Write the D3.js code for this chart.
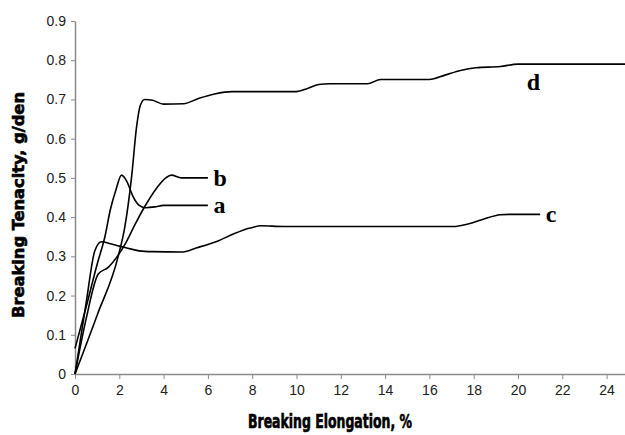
<!DOCTYPE html>
<html>
<head>
<meta charset="utf-8">
<script src="https://cdn.jsdelivr.net/npm/d3@7"></script>
<style>
  body { margin: 0; background: #fff; }
  svg { display: block; }
</style>
</head>
<body>
<svg id="chart" width="625" height="435"></svg>
<script>
// elongation (%) and tenacity (g/den)
const curveA = [[0,0.065],[0.5,0.17],[1,0.28],[1.35,0.35],[1.6,0.42],[1.85,0.47],[2.1,0.507],[2.35,0.49],[2.6,0.455],[2.9,0.43],[3.2,0.424],[3.6,0.426],[4,0.43],[6,0.43]];
const curveB = [[0,0],[0.5,0.14],[1.05,0.255],[1.5,0.272],[1.95,0.303],[2.3,0.335],[2.7,0.38],[3.15,0.427],[3.7,0.475],[4.1,0.5],[4.35,0.507],[4.8,0.5],[6,0.5]];
const curveC = [[0,0],[0.5,0.18],[0.9,0.315],[1.2,0.337],[1.6,0.332],[2,0.326],[2.3,0.322],[2.9,0.314],[3.5,0.312],[4.8,0.311],[5.5,0.322],[6.4,0.338],[7.2,0.358],[7.9,0.372],[8.4,0.378],[9.4,0.376],[17.1,0.376],[17.7,0.382],[18.4,0.394],[19.2,0.406],[19.6,0.407],[21,0.407]];
const curveD = [[0,0],[1,0.15],[1.95,0.3],[2.25,0.375],[2.55,0.5],[2.78,0.63],[2.95,0.685],[3.15,0.7],[3.5,0.698],[4,0.688],[4.9,0.689],[5.6,0.703],[6.3,0.714],[7.1,0.72],[10,0.72],[10.5,0.728],[11,0.738],[11.5,0.74],[13.2,0.74],[13.8,0.751],[16,0.751],[16.7,0.762],[17.4,0.774],[18.1,0.781],[19.2,0.784],[20,0.79],[25,0.79]];

const seriesNames = ['a', 'b', 'c', 'd'];
// label anchor points (elongation, tenacity)
const labelAt = [[6.25, 0.43], [6.25, 0.5], [21.25, 0.407], [20.4, 0.725]];
const xTicks = [0, 2, 4, 6, 8, 10, 12, 14, 16, 18, 20, 22, 24];
const yTicks = [0, 0.1, 0.2, 0.3, 0.4, 0.5, 0.6, 0.7, 0.8, 0.9];

const svg = d3.select('#chart');

const x = d3.scaleLinear().domain([0, 25]).range([75, 628.75]);
const y = d3.scaleLinear().domain([0, 0.9]).range([374, 21]);

// axes
const xAxis = svg.append('g')
    .attr('transform', 'translate(0,' + y(0) + ')')
    .call(d3.axisBottom(x).tickValues(xTicks).tickSize(5).tickSizeOuter(0).tickFormat(d3.format('d')));
const yAxis = svg.append('g')
    .attr('transform', 'translate(' + x(0) + ',0)')
    .call(d3.axisLeft(y).tickValues(yTicks).tickSize(4).tickSizeOuter(0).tickFormat(d => d === 0 ? '0' : d3.format('.1f')(d)));

[xAxis, yAxis].forEach(g => {
  g.select('.domain').attr('stroke', '#8a8a8a').attr('stroke-width', 1.5);
  g.selectAll('.tick line').attr('stroke', '#8a8a8a').attr('stroke-width', 1);
  g.selectAll('.tick text')
      .attr('fill', '#222')
      .style('font-family', 'Arial, "Liberation Sans", sans-serif')
      .style('font-size', '14px');
});
xAxis.selectAll('.tick text').attr('dy', '0.95em');
yAxis.selectAll('.tick text').attr('x', -9);

// curves
const line = d3.line()
    .x(d => x(d[0]))
    .y(d => y(d[1]))
    .curve(d3.curveMonotoneX);

[curveA, curveB, curveC, curveD].forEach(pts => {
  svg.append('path')
      .datum(pts)
      .attr('fill', 'none')
      .attr('stroke', '#000')
      .attr('stroke-width', 1.6)
      .attr('d', line);
});

// curve labels
labelAt.forEach((p, i) => {
  svg.append('text')
      .attr('x', x(p[0]))
      .attr('y', y(p[1]))
      .attr('dy', i === 3 ? '0' : '0.32em')
      .style('font-family', '"Liberation Serif", "Times New Roman", serif')
      .style('font-weight', 'bold')
      .style('font-size', '24px')
      .text(seriesNames[i]);
});

// axis titles
const titleFont = '"DejaVu Sans Condensed", "Liberation Sans Narrow", sans-serif';

svg.append('text')
    .attr('x', 248)
    .attr('y', 428)
    .attr('textLength', 164)
    .attr('lengthAdjust', 'spacingAndGlyphs')
    .attr('stroke', '#000')
    .attr('stroke-width', 0.6)
    .style('font-family', titleFont)
    .style('font-weight', 'bold')
    .style('font-size', '19px')
    .text('Breaking Elongation, %');

svg.append('text')
    .attr('transform', 'translate(24,318) rotate(-90)')
    .attr('textLength', 226)
    .attr('lengthAdjust', 'spacingAndGlyphs')
    .attr('stroke', '#000')
    .attr('stroke-width', 0.6)
    .style('font-family', titleFont)
    .style('font-weight', 'bold')
    .style('font-size', '16px')
    .text('Breaking Tenacity, g/den');
</script>
</body>
</html>
